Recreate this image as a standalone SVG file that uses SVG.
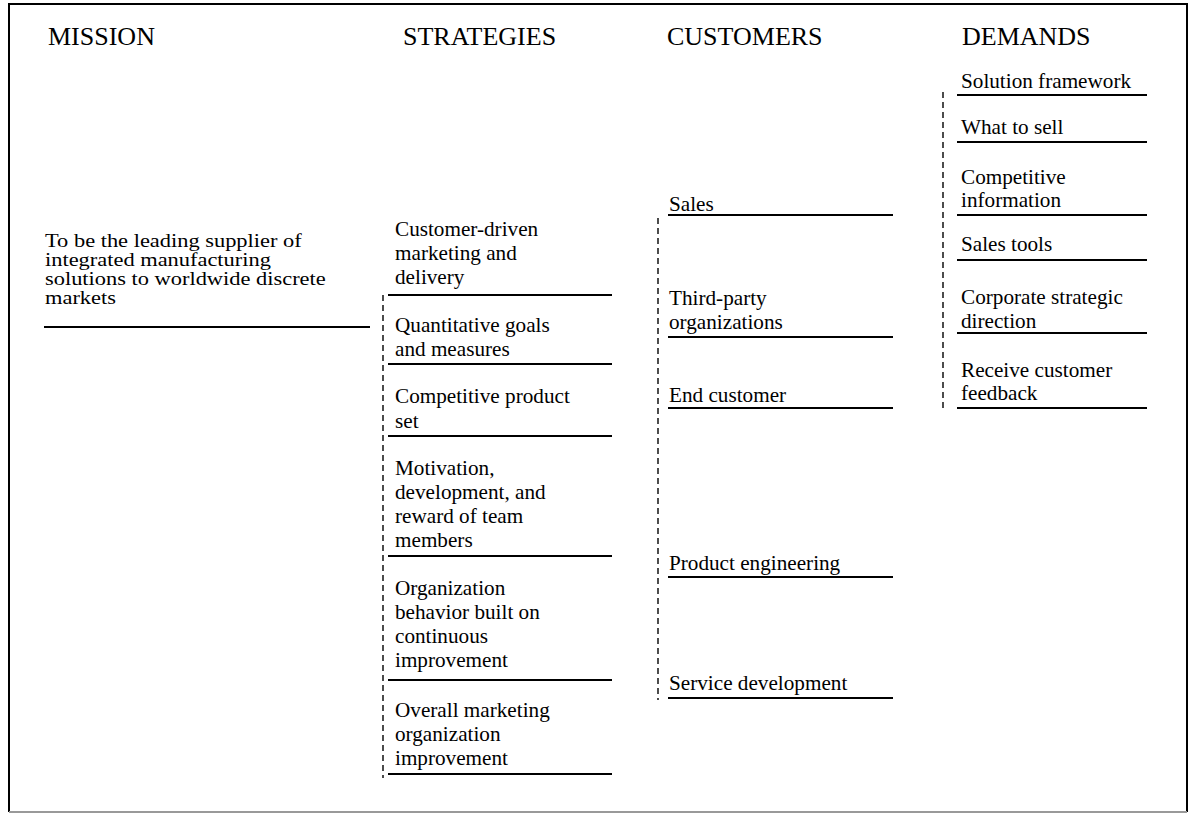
<svg xmlns="http://www.w3.org/2000/svg" width="1190" height="814" viewBox="0 0 1190 814">
  <style>
    text { font-family: "Liberation Serif", "Times New Roman", serif; fill: #000; }
    .head { font-size: 26px; }
    .body { font-size: 21.2px; }
    .lead { font-size: 19.5px; }
    .rule { stroke: #000; stroke-width: 2; fill: none; }
    .dash { stroke: #000; stroke-width: 1.4; stroke-dasharray: 6 4; fill: none; }
  </style>
  <rect x="0" y="0" width="1190" height="814" fill="#fff"/>

  <!-- frame -->
  <g id="frame">
    <path d="M9 812 V4 H1187 V812" class="rule" stroke-width="2.5"/>
    <line x1="9" y1="812" x2="1187" y2="812" stroke="#999" stroke-width="2"/>
  </g>

  <!-- column headings -->
  <g id="headings" class="head">
    <text x="48" y="45">MISSION</text>
    <text x="403" y="45">STRATEGIES</text>
    <text x="667" y="45">CUSTOMERS</text>
    <text x="962" y="45">DEMANDS</text>
  </g>

  <!-- mission (set slightly wide) -->
  <g id="mission">
    <g class="lead" transform="translate(45 0) scale(1.15 1)">
      <text x="0" y="247">To be the leading supplier of</text>
      <text x="0" y="266">integrated manufacturing</text>
      <text x="0" y="285">solutions to worldwide discrete</text>
      <text x="0" y="304">markets</text>
    </g>
    <line x1="44" y1="327" x2="370" y2="327" class="rule"/>
  </g>

  <!-- strategies -->
  <g id="strategies" class="body">
    <g id="s1">
      <text x="395" y="236">Customer-driven</text>
      <text x="395" y="260">marketing and</text>
      <text x="395" y="284">delivery</text>
      <line x1="388" y1="295" x2="612" y2="295" class="rule"/>
    </g>
    <g id="s2">
      <text x="395" y="332">Quantitative goals</text>
      <text x="395" y="356">and measures</text>
      <line x1="388" y1="364" x2="612" y2="364" class="rule"/>
    </g>
    <g id="s3">
      <text x="395" y="403">Competitive product</text>
      <text x="395" y="428">set</text>
      <line x1="388" y1="436" x2="612" y2="436" class="rule"/>
    </g>
    <g id="s4">
      <text x="395" y="475">Motivation,</text>
      <text x="395" y="499">development, and</text>
      <text x="395" y="523">reward of team</text>
      <text x="395" y="547">members</text>
      <line x1="388" y1="556" x2="612" y2="556" class="rule"/>
    </g>
    <g id="s5">
      <text x="395" y="595">Organization</text>
      <text x="395" y="619">behavior built on</text>
      <text x="395" y="643">continuous</text>
      <text x="395" y="667">improvement</text>
      <line x1="388" y1="680" x2="612" y2="680" class="rule"/>
    </g>
    <g id="s6">
      <text x="395" y="717">Overall marketing</text>
      <text x="395" y="741">organization</text>
      <text x="395" y="765">improvement</text>
      <line x1="388" y1="774" x2="612" y2="774" class="rule"/>
    </g>
  </g>

  <!-- customers -->
  <g id="customers" class="body">
    <g id="c1">
      <text x="669" y="211">Sales</text>
      <line x1="668" y1="215" x2="893" y2="215" class="rule"/>
    </g>
    <g id="c2">
      <text x="669" y="305">Third-party</text>
      <text x="669" y="329">organizations</text>
      <line x1="668" y1="337" x2="893" y2="337" class="rule"/>
    </g>
    <g id="c3">
      <text x="669" y="402">End customer</text>
      <line x1="668" y1="408" x2="893" y2="408" class="rule"/>
    </g>
    <g id="c4">
      <text x="669" y="570">Product engineering</text>
      <line x1="668" y1="577" x2="893" y2="577" class="rule"/>
    </g>
    <g id="c5">
      <text x="669" y="690">Service development</text>
      <line x1="668" y1="698" x2="893" y2="698" class="rule"/>
    </g>
  </g>

  <!-- demands -->
  <g id="demands" class="body">
    <g id="d1">
      <text x="961" y="88">Solution framework</text>
      <line x1="957" y1="95" x2="1147" y2="95" class="rule"/>
    </g>
    <g id="d2">
      <text x="961" y="134">What to sell</text>
      <line x1="957" y1="142" x2="1147" y2="142" class="rule"/>
    </g>
    <g id="d3">
      <text x="961" y="184">Competitive</text>
      <text x="961" y="207">information</text>
      <line x1="957" y1="215" x2="1147" y2="215" class="rule"/>
    </g>
    <g id="d4">
      <text x="961" y="251">Sales tools</text>
      <line x1="957" y1="260" x2="1147" y2="260" class="rule"/>
    </g>
    <g id="d5">
      <text x="961" y="304">Corporate strategic</text>
      <text x="961" y="328">direction</text>
      <line x1="957" y1="333" x2="1147" y2="333" class="rule"/>
    </g>
    <g id="d6">
      <text x="961" y="377">Receive customer</text>
      <text x="961" y="400">feedback</text>
      <line x1="957" y1="408" x2="1147" y2="408" class="rule"/>
    </g>
  </g>

  <!-- connectors: dashed brackets joining each column's items -->
  <g id="connectors">
    <line x1="383" y1="295" x2="383" y2="778" class="dash"/>
    <line x1="658" y1="218" x2="658" y2="700" class="dash"/>
    <line x1="943" y1="92" x2="943" y2="412" class="dash"/>
  </g>
</svg>
